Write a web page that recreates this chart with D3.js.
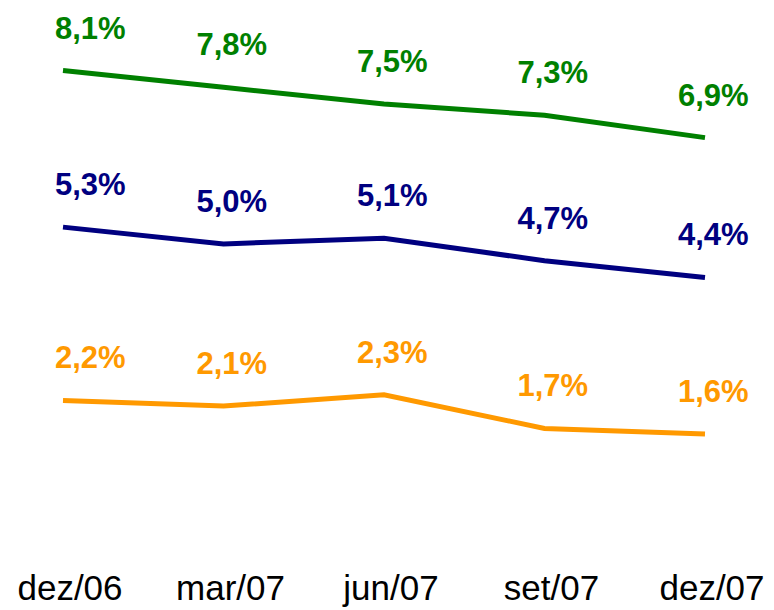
<!DOCTYPE html>
<html>
<head>
<meta charset="utf-8">
<script src="https://cdn.jsdelivr.net/npm/d3@7"></script>
<style>
  body { margin: 0; background: #fff; }
  svg { display: block; }
</style>
</head>
<body>
<div id="chart"></div>
<script>
var categories = ["dez/06", "mar/07", "jun/07", "set/07", "dez/07"];
var greenValues = [8.1, 7.8, 7.5, 7.3, 6.9];
var blueValues = [5.3, 5.0, 5.1, 4.7, 4.4];
var orangeValues = [2.2, 2.1, 2.3, 1.7, 1.6];

var series = [
  { values: greenValues, color: "#008000" },
  { values: blueValues, color: "#000080" },
  { values: orangeValues, color: "#FF9900" }
];

draw();

function draw() {
  var width = 774;
  var height = 610;
  var font = "'Liberation Sans', Arial, sans-serif";

  var svg = d3.select("#chart")
    .append("svg")
    .attr("width", width)
    .attr("height", height);

  var x = d3.scalePoint()
    .domain(categories)
    .range([63, 705]);

  var y = d3.scaleLinear()
    .domain([0, 9])
    .range([523.5, 20.2]);

  var line = d3.line()
    .x(function(d, i) { return x(categories[i]); })
    .y(function(d) { return y(d); });

  var fmt = function(v) { return v.toFixed(1).replace(".", ",") + "%"; };

  series.forEach(function(s) {
    svg.append("path")
      .datum(s.values)
      .attr("fill", "none")
      .attr("stroke", s.color)
      .attr("stroke-width", 5)
      .attr("d", line);

    svg.selectAll(null)
      .data(s.values)
      .enter()
      .append("text")
      .attr("x", function(d, i) { return x(categories[i]) + (i == 0 ? -8 : -27); })
      .attr("y", function(d) { return y(d) - 32; })
      .attr("fill", s.color)
      .style("font-family", font)
      .style("font-weight", "bold")
      .style("font-size", "31px")
      .text(fmt);
  });

  // category labels along the bottom
  svg.selectAll(null)
    .data(categories)
    .enter()
    .append("text")
    .attr("x", function(d) { return x(d) + 7; })
    .attr("y", 600)
    .attr("text-anchor", "middle")
    .attr("fill", "#000")
    .style("font-family", font)
    .style("font-size", "35px")
    .text(function(d) { return d; });
}
</script>
</body>
</html>
